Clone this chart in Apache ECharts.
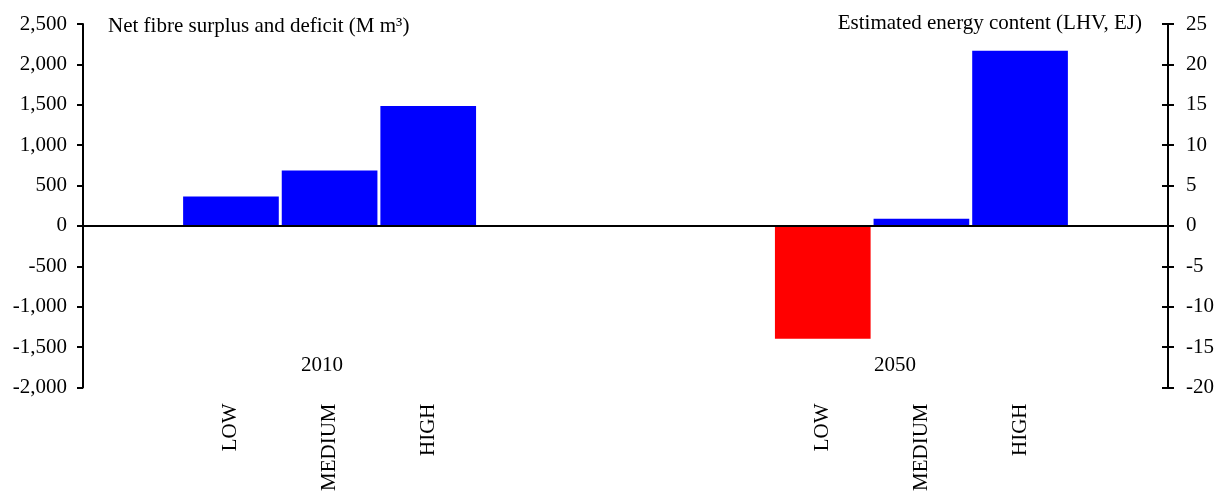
<!DOCTYPE html>
<html>
<head>
<meta charset="utf-8">
<script src="https://cdn.jsdelivr.net/npm/echarts@6/dist/echarts.min.js"></script>
<style>
  html, body { margin: 0; padding: 0; background: #fff; }
  #chart { width: 1218px; height: 494px; }
</style>
</head>
<body>
<div id="chart"></div>
<script>
// Scenario slots along the x axis (blank slots keep the two year groups apart)
const categories = ['', 'LOW', 'MEDIUM', 'HIGH', '', '', '', 'LOW', 'MEDIUM', 'HIGH', ''];
// Net fibre surplus (+) / deficit (-), million m3
const fibreBalance = [null, 365, 685, 1485, null, null, null, -1395, 90, 2170, null];
// Year group labels
const years = ['2010', '2050'];
// Axis ranges
const leftAxis = { min: -2000, max: 2500, interval: 500 };
const rightAxis = { min: -20, max: 25, interval: 5 };

const FONT = 'Liberation Serif';
const SIZE = 21;
const TEXT = { fontFamily: FONT, fontSize: SIZE, color: '#000' };
const CSS_FONT = SIZE + 'px "' + FONT + '"';

const chart = echarts.init(document.getElementById('chart'), null, { renderer: 'canvas' });

const fmtThousands = v => (v < 0 ? '-' : '') + Math.abs(v).toLocaleString('en-US');

chart.setOption({
  animation: false,
  backgroundColor: '#fff',
  grid: { left: 83, right: 50, top: 24, bottom: 104, containLabel: false },
  xAxis: {
    type: 'category',
    data: categories,
    position: 'bottom',
    axisLine: { show: false, onZero: false },
    axisTick: { show: false },
    axisLabel: Object.assign({ interval: 0, rotate: 90, margin: 16 }, TEXT),
    splitLine: { show: false }
  },
  yAxis: [
    {
      type: 'value',
      position: 'left',
      min: leftAxis.min, max: leftAxis.max, interval: leftAxis.interval,
      axisLine: { show: true, lineStyle: { color: '#000', width: 2 } },
      axisTick: { show: true, length: 6, lineStyle: { color: '#000', width: 2 } },
      axisLabel: Object.assign({ margin: 16, formatter: fmtThousands }, TEXT),
      splitLine: { show: false }
    },
    {
      type: 'value',
      position: 'right',
      min: rightAxis.min, max: rightAxis.max, interval: rightAxis.interval,
      axisLine: { show: true, lineStyle: { color: '#000', width: 2 } },
      axisTick: { show: true, length: 6, lineStyle: { color: '#000', width: 2 } },
      axisLabel: Object.assign({ margin: 18 }, TEXT),
      splitLine: { show: false }
    },
    {
      // inner half of the crossing ticks on the energy axis
      type: 'value',
      position: 'right',
      min: rightAxis.min, max: rightAxis.max, interval: rightAxis.interval,
      axisLine: { show: false },
      axisTick: { show: true, inside: true, length: 6, lineStyle: { color: '#000', width: 2 } },
      axisLabel: { show: false },
      splitLine: { show: false }
    }
  ],
  graphic: [
    { type: 'text', x: 108, y: 26, style: { text: 'Net fibre surplus and deficit (M m³)', font: CSS_FONT, fill: '#000', align: 'left', verticalAlign: 'middle' } },
    { type: 'text', x: 1142, y: 23, style: { text: 'Estimated energy content (LHV, EJ)', font: CSS_FONT, fill: '#000', align: 'right', verticalAlign: 'middle' } },
    { type: 'text', x: 322, y: 365, style: { text: years[0], font: CSS_FONT, fill: '#000', align: 'center', verticalAlign: 'middle' } },
    { type: 'text', x: 895, y: 365, style: { text: years[1], font: CSS_FONT, fill: '#000', align: 'center', verticalAlign: 'middle' } }
  ],
  series: [
    {
      type: 'bar',
      yAxisIndex: 0,
      data: fibreBalance,
      barCategoryGap: '3%',
      itemStyle: {
        color: p => (p.value < 0 ? '#ff0000' : '#0000ff')
      },
      markLine: {
        silent: true,
        symbol: 'none',
        label: { show: false },
        lineStyle: { color: '#000', width: 2, type: 'solid' },
        data: [{ yAxis: 0 }]
      }
    }
  ]
});
</script>
</body>
</html>
